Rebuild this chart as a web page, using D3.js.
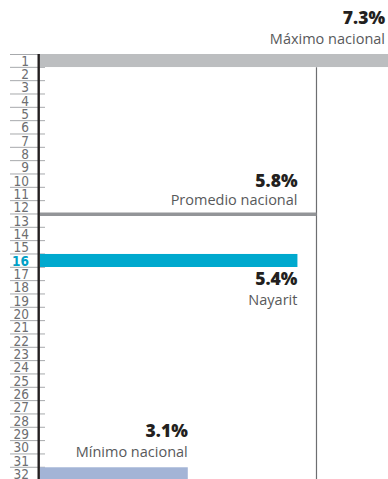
<!DOCTYPE html>
<html><head><meta charset="utf-8">
<script src="https://cdn.jsdelivr.net/npm/d3@7"></script>
<style>body{margin:0;background:#fff}svg{display:block}</style>
</head><body>
<svg id="c" width="388" height="479"></svg>
<script>
const ranks = d3.range(1, 33);
const bars = [
  {rank: 1, value: 7.3, pct: "7.3%", label: "Máximo nacional", color: "#bcbec0", pos: "above", anchorOff: -3},
  {rank: 16, value: 5.4, pct: "5.4%", label: "Nayarit", color: "#00a9ce", pos: "below", anchorOff: 0},
  {rank: 32, value: 3.1, pct: "3.1%", label: "Mínimo nacional", color: "#a3b4d6", pos: "above", anchorOff: 0}
];
const average = {rank: 13, value: 5.8, pct: "5.8%", label: "Promedio nacional"};
const highlightRank = 16;

const svg = d3.select("#c");
const y = d3.scaleBand().domain(ranks).range([54, 480.6]).padding(0);
const x = d3.scaleLinear().domain([0, 7.3]).range([40, 388]);
const bw = y.bandwidth();

// row underlines
svg.append("g").selectAll("line").data([0].concat(ranks)).join("line")
  .attr("x1", 10).attr("x2", 45)
  .attr("y1", d => d === 0 ? y(1) + 0.5 : y(d) + bw)
  .attr("y2", d => d === 0 ? y(1) + 0.5 : y(d) + bw)
  .attr("stroke", "#a7a9ac").attr("stroke-width", 1);

// rank labels
svg.append("g").selectAll("text").data(ranks).join("text")
  .attr("x", 29).attr("y", d => y(d) + bw - 1.6)
  .attr("text-anchor", "end")
  .attr("font-family", "'Liberation Sans Narrow','DejaVu Sans Condensed',sans-serif")
  .attr("font-size", 13.5)
  .attr("font-weight", d => d === highlightRank ? "bold" : "normal")
  .attr("fill", d => d === highlightRank ? "#00a0c6" : "#6d6e71")
  .text(d => d);

// average vertical line
svg.append("line")
  .attr("x1", x(average.value)).attr("x2", x(average.value))
  .attr("y1", y(1) + bw).attr("y2", 479)
  .attr("stroke", "#6d6e71").attr("stroke-width", 1.2);

// bars
svg.append("g").selectAll("rect").data(bars).join("rect")
  .attr("x", x(0)).attr("y", d => y(d.rank))
  .attr("width", d => x(d.value) - x(0))
  .attr("height", bw - 0.3)
  .attr("fill", d => d.color);

// average horizontal line
svg.append("line")
  .attr("x1", x(0)).attr("x2", x(average.value))
  .attr("y1", y(average.rank) + 0.3).attr("y2", y(average.rank) + 0.3)
  .attr("stroke", "#939598").attr("stroke-width", 3.6);

// axis
svg.append("line")
  .attr("x1", 38.7).attr("x2", 38.7).attr("y1", y(1)).attr("y2", 479)
  .attr("stroke", "#231f20").attr("stroke-width", 2.4);

const vFont = "'Open Sans','Noto Sans',sans-serif";
function labels(xr, yv, ys, pct, lab) {
  svg.append("text").attr("x", xr).attr("y", yv).attr("text-anchor", "end")
    .attr("font-family", vFont).attr("font-weight", "800").attr("font-size", 17.5)
    .attr("fill", "#231f20").text(pct);
  svg.append("text").attr("x", xr).attr("y", ys).attr("text-anchor", "end")
    .attr("font-family", vFont).attr("font-size", 14.5)
    .attr("fill", "#58595b").text(lab);
}
bars.forEach(d => {
  const xr = x(d.value) + d.anchorOff;
  if (d.pos === "above") labels(xr, y(d.rank) - 30, y(d.rank) - 10, d.pct, d.label);
  else labels(xr, y(d.rank) + bw + 18, y(d.rank) + bw + 38, d.pct, d.label);
});
labels(x(average.value) - 19, y(average.rank) - 27, y(average.rank) - 9, average.pct, average.label);
</script>
</body></html>
